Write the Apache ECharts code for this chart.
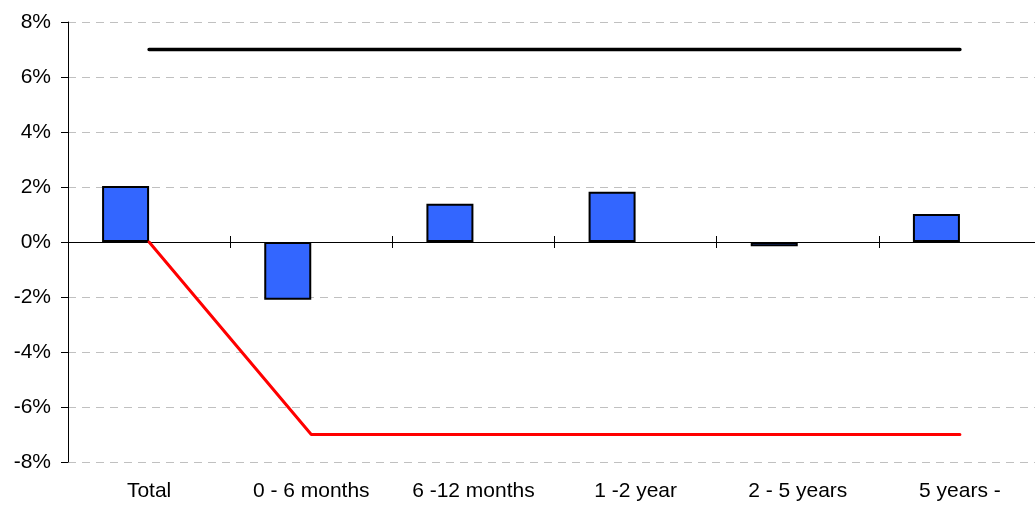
<!DOCTYPE html>
<html>
<head>
<meta charset="utf-8">
<title>Relative return by maturity bucket</title>
<script src="https://cdn.jsdelivr.net/npm/echarts@6/dist/echarts.min.js"></script>
<style>
  html, body { margin: 0; padding: 0; background: #ffffff; overflow: hidden; }
  /* the last bucket runs a few pixels past the right edge of the window */
  #chart { width: 1041px; height: 507px; }
</style>
</head>
<body>
<div id="chart"></div>
<script>
// Maturity buckets along the horizontal axis
const categories = ['Total', '0 - 6 months', '6 -12 months', '1 -2 year', '2 - 5 years', '5 years -'];
// Bar values, in percent
const barValues = [2.04, -2.1, 1.39, 1.83, -0.15, 1.02];
// Upper and lower limit lines, in percent
const upperLimit = [7, 7, 7, 7, 7, 7];
const lowerLimit = [0, -7, -7, -7, -7, -7];
// Vertical axis ticks, in percent
const yTicks = [-8, -6, -4, -2, 0, 2, 4, 6, 8];

const FONT = '"Liberation Sans", Arial, sans-serif';

const chart = echarts.init(document.getElementById('chart'), null, { renderer: 'canvas' });

chart.setOption({
  animation: false,
  backgroundColor: '#ffffff',
  grid: { left: 68, right: 0, top: 22, bottom: 45, containLabel: false },
  xAxis: [
    {
      // axis line through zero with downward ticks between buckets
      type: 'category',
      data: categories,
      position: 'bottom',
      boundaryGap: true,
      axisLine: { show: true, onZero: true, onZeroAxisIndex: 0, lineStyle: { color: '#000000', width: 1 } },
      axisTick: { show: true, inside: false, length: 6, lineStyle: { color: '#000000', width: 1 } },
      axisLabel: { show: false },
      splitLine: { show: false }
    },
    {
      // upward half of the same ticks
      type: 'category',
      data: categories,
      position: 'top',
      boundaryGap: true,
      axisLine: { show: true, onZero: true, onZeroAxisIndex: 0, lineStyle: { color: '#000000', width: 1 } },
      axisTick: { show: true, inside: false, length: 6, lineStyle: { color: '#000000', width: 1 } },
      axisLabel: { show: false },
      splitLine: { show: false }
    },
    {
      // bucket names along the bottom of the plot
      type: 'category',
      data: categories,
      position: 'bottom',
      boundaryGap: true,
      axisLine: { show: false, onZero: false },
      axisTick: { show: false },
      axisLabel: { show: true, color: '#000000', fontFamily: FONT, fontSize: 21, margin: 19, interval: 0 },
      splitLine: { show: false }
    }
  ],
  yAxis: {
    type: 'value',
    min: yTicks[0],
    max: yTicks[yTicks.length - 1],
    interval: 2,
    axisLine: { show: true, onZero: false, lineStyle: { color: '#000000', width: 1 } },
    axisTick: { show: true, inside: false, length: 7, lineStyle: { color: '#000000', width: 1 } },
    axisLabel: {
      color: '#000000', fontFamily: FONT, fontSize: 21, margin: 17,
      formatter: v => v + '%'
    },
    splitLine: { show: true, lineStyle: { color: '#c0c0c0', type: [8, 6], width: 1 } }
  },
  series: [
    {
      name: 'Relative return',
      type: 'bar',
      xAxisIndex: 0,
      data: barValues,
      barWidth: 47,
      barGap: '0%',
      itemStyle: { color: '#3366ff', borderColor: '#000000', borderWidth: 2 },
      z: 2
    },
    {
      // empty slot beside each bar, keeps the bars left of the bucket centre
      name: 'spacer',
      type: 'bar',
      xAxisIndex: 0,
      data: categories.map(() => null),
      barWidth: 47,
      barGap: '0%',
      silent: true
    },
    {
      name: 'Upper limit',
      type: 'line',
      xAxisIndex: 0,
      data: upperLimit,
      symbol: 'none',
      lineStyle: { color: '#000000', width: 3.5, cap: 'round' },
      z: 3
    },
    {
      name: 'Lower limit',
      type: 'line',
      xAxisIndex: 0,
      data: lowerLimit,
      symbol: 'none',
      lineStyle: { color: '#ff0000', width: 3, cap: 'round' },
      z: 3
    }
  ]
});
</script>
</body>
</html>
